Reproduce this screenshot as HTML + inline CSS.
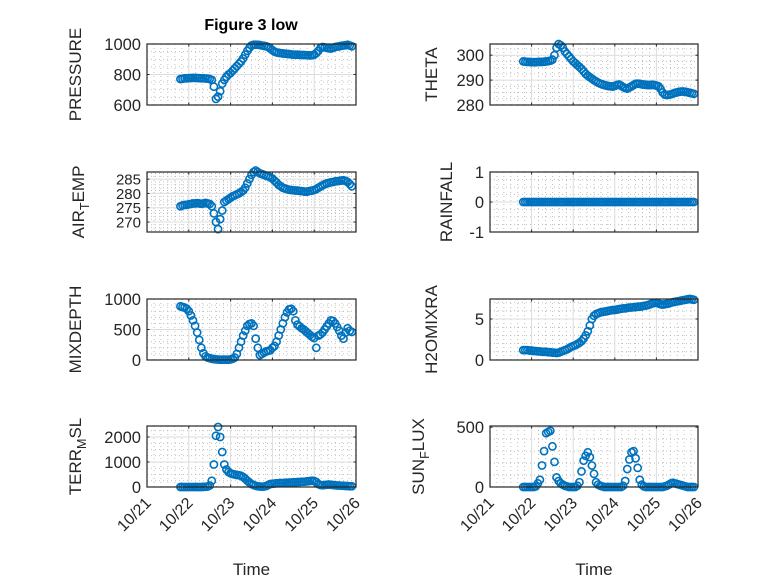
<!DOCTYPE html>
<html><head><meta charset="utf-8"><style>
html,body{margin:0;padding:0;background:#fff;}
svg{display:block;font-family:"Liberation Sans","DejaVu Sans",sans-serif;}
</style></head><body>
<svg id="fig" width="778" height="583" viewBox="0 0 778 583" xmlns="http://www.w3.org/2000/svg">
<rect width="778" height="583" fill="#fff"/>
<text x="251" y="30" text-anchor="middle" font-size="16" font-weight="bold" fill="#000">Figure 3 low</text>
</svg>
<script>
// ---- data ----
const T0 = 21.8, STEP = 0.05;
const xTickLabels = ["10/21","10/22","10/23","10/24","10/25","10/26"];
const xTickValues = [21,22,23,24,25,26];
const pressure = [770,772,775,775,
776,777,778,778,777,776,775,775,774,773,770,765,720,640,655,690,740,765,785,800,
810,825,840,855,870,885,905,930,955,975,990,995,995,995,993,990,988,985,980,970,
960,950,945,942,940,938,937,935,934,932,930,930,930,929,928,928,927,926,925,926,
930,940,955,975,980,978,975,972,970,975,980,983,985,988,990,992,995,990,985];
const airTemp = [275.5,275.8,276,276,
276.2,276.3,276.5,276.5,276.6,276.5,276.4,276.5,276.7,276.5,276.3,275.5,273,270,267.5,271,274,277,277.5,278,
278.5,279,279.3,279.7,280,280.5,281,282,283.5,285,286.5,287.5,288,287.5,287,286.8,286.5,286.2,286,285.6,
285.2,284.5,283.8,283,282.5,282,281.7,281.5,281.3,281.2,281.1,281,281,280.9,280.8,280.7,280.6,280.7,280.9,281,
281.2,281.5,282,282.4,282.8,283.2,283.5,283.7,283.9,284,284.2,284.3,284.4,284.5,284.6,284.4,284,283.3,282.5];
const theta = [297.5,297.4,297.3,297.3,
297.2,297.2,297.2,297.3,297.3,297.3,297.4,297.5,297.6,297.8,298.2,300,303,304.5,304,303,301.5,300.5,299.5,298.5,
297.5,296.8,296,295.3,294.5,293.5,292.5,291.8,291.2,290.6,290,289.5,289,288.6,288.3,288,287.8,287.6,287.5,287.4,
287.7,288,288.2,287.8,287.2,286.8,286.6,287,287.5,288,288.5,288.6,288.5,288.3,288.2,288.1,288,288,288.1,288,
287.8,287.5,286.5,285,284.2,284,284.1,284.3,284.6,284.9,285.1,285.3,285.4,285.4,285.3,285.1,284.9,284.7,284.5];
const rainfall = [0,0,0,0,
0,0,0,0,0,0,0,0,0,0,0,0,0,0,0,0,0,0,0,0,
0,0,0,0,0,0,0,0,0,0,0,0,0,0,0,0,0,0,0,0,
0,0,0,0,0,0,0,0,0,0,0,0,0,0,0,0,0,0,0,0,
0,0,0,0,0,0,0,0,0,0,0,0,0,0,0,0,0,0,0];
const mixdepth = [880,870,860,840,
800,730,650,560,450,330,200,110,60,40,30,20,15,10,8,5,5,5,5,5,
10,20,40,100,200,300,400,480,560,590,600,560,350,200,80,100,120,140,150,160,
200,230,300,400,500,600,700,780,830,840,800,650,580,550,520,500,470,440,410,380,
360,200,400,420,450,500,550,600,650,640,600,540,480,400,350,450,520,480,460];
const h2o = [1.2,1.2,1.2,1.15,
1.15,1.1,1.1,1.05,1.05,1.0,1.0,1.0,0.95,0.95,0.9,0.9,0.85,0.9,1.0,1.1,1.2,1.3,1.45,1.6,
1.7,1.8,1.95,2.1,2.3,2.6,3.0,3.5,4.2,5.0,5.4,5.6,5.7,5.8,5.85,5.9,5.95,6.0,6.05,6.1,
6.1,6.15,6.2,6.25,6.3,6.3,6.35,6.4,6.4,6.45,6.45,6.5,6.5,6.55,6.6,6.65,6.7,6.8,6.9,6.95,
7.0,6.9,6.8,6.75,6.8,6.85,6.9,7.0,7.05,7.1,7.15,7.2,7.25,7.3,7.35,7.4,7.45,7.4,7.35];
const terrMsl = [0,0,0,0,
0,0,0,0,0,0,0,5,10,20,60,250,900,2050,2400,2000,1400,900,700,600,
550,520,500,480,470,450,400,330,250,180,120,80,50,30,20,15,20,40,80,120,
130,140,150,150,160,160,170,170,180,180,190,190,200,200,210,210,220,230,240,250,
240,200,120,80,70,80,90,100,90,80,70,60,60,50,50,40,40,30,30];
const sunFlux = [0,0,0,0,
0,0,5,30,60,180,300,450,460,470,340,210,80,50,30,20,10,5,0,0,
0,0,10,40,130,220,260,290,250,180,110,40,20,10,5,0,0,0,0,0,
0,0,0,0,10,50,150,230,290,300,240,160,60,20,5,0,0,0,0,0,
0,0,0,0,5,10,20,30,35,30,25,20,15,10,5,0,0,0,0];

const panels = [
 {name:"pressure",data:pressure,x0:147,x1:356,y0:44,y1:105,ymin:600,ymax:1000,ticks:[600,800,1000],minor:50,label:["PRESSURE"],lx:81},
 {name:"theta",data:theta,x0:490,x1:698,y0:44,y1:105,ymin:280,ymax:304.5,ticks:[280,290,300],minor:2.5,label:["THETA"],lx:437},
 {name:"air-temp",data:airTemp,x0:147,x1:356,y0:172,y1:232,ymin:266.5,ymax:287.5,ticks:[270,275,280,285],minor:1,label:["AIR","T","EMP"],lx:84},
 {name:"rainfall",data:rainfall,x0:490,x1:698,y0:172,y1:232,ymin:-1,ymax:1,ticks:[-1,0,1],minor:0.25,label:["RAINFALL"],lx:452},
 {name:"mixdepth",data:mixdepth,x0:147,x1:356,y0:299,y1:360,ymin:0,ymax:1000,ticks:[0,500,1000],minor:100,label:["MIXDEPTH"],lx:81},
 {name:"h2omixra",data:h2o,x0:490,x1:698,y0:299,y1:360,ymin:0,ymax:7.44,ticks:[0,5],minor:1,label:["H2OMIXRA"],lx:437},
 {name:"terr-msl",data:terrMsl,x0:147,x1:356,y0:426,y1:487,ymin:0,ymax:2440,ticks:[0,1000,2000],minor:250,label:["TERR","M","SL"],lx:81},
 {name:"sun-flux",data:sunFlux,x0:490,x1:698,y0:426,y1:487,ymin:0,ymax:510,ticks:[0,500],minor:100,label:["SUN","F","LUX"],lx:424}
];
const NS="http://www.w3.org/2000/svg";
const svg=document.getElementById("fig");
function mk(tag,attrs,parent){const e=document.createElementNS(NS,tag);for(const k in attrs)e.setAttribute(k,attrs[k]);(parent||svg).appendChild(e);return e;}

panels.forEach((p,pi)=>{
 const g=mk("g",{});
 
 
 const xs=v=>p.x0+(v-21)/(26-21)*(p.x1-p.x0);
 const ys=v=>p.y1-(v-p.ymin)/(p.ymax-p.ymin)*(p.y1-p.y0);
 for(let d=21;d<26;d+=1){for(let k=1;k<6;k++){const x=xs(d+k/6);
  mk("line",{x1:x,x2:x,y1:p.y0,y2:p.y1,stroke:"#b0b0b0","stroke-width":0.8,"stroke-dasharray":"1 3"},g);}}
 const start=Math.ceil(p.ymin/p.minor)*p.minor;
 for(let v=start;v<=p.ymax+1e-9;v+=p.minor){if(p.ticks.some(t=>Math.abs(t-v)<1e-9))continue;const y=ys(v);
  mk("line",{x1:p.x0,x2:p.x1,y1:y,y2:y,stroke:"#b0b0b0","stroke-width":0.8,"stroke-dasharray":"1 3"},g);}
 xTickValues.forEach(v=>{const x=xs(v);mk("line",{x1:x,x2:x,y1:p.y0,y2:p.y1,stroke:"#dcdcdc","stroke-width":1},g);});
 p.ticks.forEach(v=>{const y=ys(v);mk("line",{x1:p.x0,x2:p.x1,y1:y,y2:y,stroke:"#dcdcdc","stroke-width":1},g);});
 xTickValues.forEach(v=>{const x=xs(v);
  mk("line",{x1:x,x2:x,y1:p.y1,y2:p.y1-2.5,stroke:"#262626","stroke-width":1},g);
  mk("line",{x1:x,x2:x,y1:p.y0,y2:p.y0+2.5,stroke:"#262626","stroke-width":1},g);});
 p.ticks.forEach(v=>{const y=ys(v);
  mk("line",{x1:p.x0,x2:p.x0+2.5,y1:y,y2:y,stroke:"#262626","stroke-width":1},g);
  mk("line",{x1:p.x1,x2:p.x1-2.5,y1:y,y2:y,stroke:"#262626","stroke-width":1},g);
  const fs=p.name==="air-temp"?15:16.5;
  const t=mk("text",{x:p.x0-6,y:y+fs*0.36,"text-anchor":"end","font-size":fs,fill:"#262626"},g);
  
  
  t.textContent=String(v);
 });
 const mg=mk("g",{fill:"none",stroke:"#0072BD","stroke-width":1.6},g);
 
 
 p.data.forEach((v,i)=>{
  const c=mk("circle",{cx:xs(T0+i*STEP),cy:ys(v),r:3.6},mg);
  
  
 });
 mk("rect",{x:p.x0,y:p.y0,width:p.x1-p.x0,height:p.y1-p.y0,fill:"none",stroke:"#262626","stroke-width":1.2},g);
 const cy=(p.y0+p.y1)/2;
 const lab=mk("text",{x:0,y:0,transform:`translate(${p.lx},${cy}) rotate(-90)`,"text-anchor":"middle","font-size":17,fill:"#262626"},g);
 
 
 if(p.label.length===1){lab.textContent=p.label[0];}
 else{
  const a=mk("tspan",{},lab);a.textContent=p.label[0];
  const b=mk("tspan",{dy:5,"font-size":12.5},lab);b.textContent=p.label[1];
  const c=mk("tspan",{dy:-5},lab);c.textContent=p.label[2];
 }
 if(pi>=6){
  xTickValues.forEach((v,i)=>{const x=xs(v);
   const t=mk("text",{x:0,y:0,transform:`translate(${x+5},${p.y1+17}) rotate(-45)`,"text-anchor":"end","font-size":16,fill:"#262626"},g);
   
   
   t.textContent=xTickLabels[i];
  });
  const xt=mk("text",{x:(p.x0+p.x1)/2,y:575,"text-anchor":"middle","font-size":17,fill:"#262626"},g);
  
  
  xt.textContent="Time";
 }
});
</script>
</body></html>
